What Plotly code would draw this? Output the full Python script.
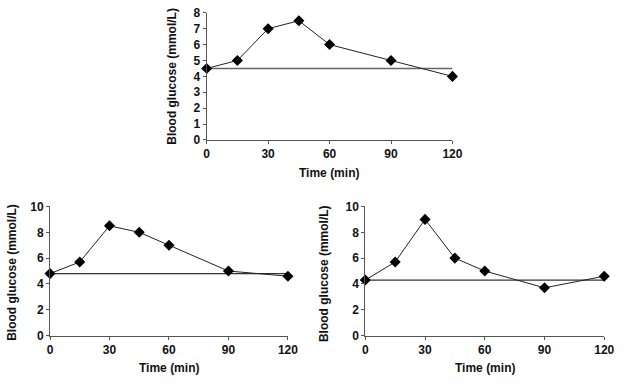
import plotly.graph_objects as go

time_min = [0, 15, 30, 45, 60, 90, 120]
glucose_top = [4.5, 5.0, 7.0, 7.5, 6.0, 5.0, 4.0]
glucose_left = [4.8, 5.7, 8.5, 8.0, 7.0, 5.0, 4.6]
glucose_right = [4.3, 5.7, 9.0, 6.0, 5.0, 3.7, 4.6]
baseline_top = 4.5
baseline_left = 4.8
baseline_right = 4.3
x_ticks = [0, 30, 60, 90, 120]
y_ticks_top = [0, 1, 2, 3, 4, 5, 6, 7, 8]
y_ticks_bottom = [0, 2, 4, 6, 8, 10]

W, H = 625, 385
FONT = dict(family="Liberation Sans, Arial, sans-serif", size=12, color="#111", weight="bold")

panels = [
    # (x0, x1, ytop, ybottom) in pixels, data, baseline, yrange, yticks, title positions
    ((208, 459, 6, 138), glucose_top, baseline_top, [0, 8], y_ticks_top, (333, 172), (173, 72), "#666", 1.6),
    ((48, 291, 207, 341), glucose_left, baseline_left, [0, 10], y_ticks_bottom, (170, 375), (9, 275), "#333", 1.2),
    ((370, 614, 207, 341), glucose_right, baseline_right, [0, 10], y_ticks_bottom, (492, 375), (328, 277), "#333", 1.2),
]

fig = go.Figure()
annotations = []
for i, (box, vals, base, yr, yt, xt_pos, yt_pos, bcol, bw) in enumerate(panels, start=1):
    x0, x1, yt_px, yb_px = box
    xa = "x" if i == 1 else f"x{i}"
    ya = "y" if i == 1 else f"y{i}"
    fig.add_trace(go.Scatter(
        x=[time_min[0], time_min[-1]], y=[base, base], mode="lines",
        line=dict(color=bcol, width=bw), xaxis=xa, yaxis=ya,
        showlegend=False, hoverinfo="skip", cliponaxis=False))
    fig.add_trace(go.Scatter(
        x=time_min, y=vals, mode="lines+markers",
        line=dict(color="#222", width=1),
        marker=dict(symbol="diamond", size=8.5, color="#000"),
        xaxis=xa, yaxis=ya, showlegend=False, cliponaxis=False))
    axis_common = dict(showgrid=False, zeroline=False, showline=True, linecolor="#555",
                       linewidth=1, ticks="outside", ticklen=3, tickcolor="#555",
                       tickfont=FONT)
    fig.layout[f"xaxis{'' if i == 1 else i}"] = dict(
        domain=[x0 / W, x1 / W], range=[0, 120], tickvals=x_ticks,
        anchor=ya, **axis_common)
    fig.layout[f"yaxis{'' if i == 1 else i}"] = dict(
        domain=[1 - yb_px / H, 1 - yt_px / H], range=yr, tickvals=yt,
        anchor=xa, **axis_common)
    annotations.append(dict(text="Time (min)", xref="paper", yref="paper",
                            x=xt_pos[0] / W, y=1 - xt_pos[1] / H, showarrow=False,
                            xanchor="center", yanchor="middle", font=FONT))
    annotations.append(dict(text="Blood glucose (mmol/L)", xref="paper", yref="paper",
                            x=yt_pos[0] / W, y=1 - yt_pos[1] / H, showarrow=False,
                            textangle=-90, xanchor="center", yanchor="middle", font=FONT))

fig.update_layout(width=W, height=H, margin=dict(l=0, r=0, t=0, b=0),
                  paper_bgcolor="white", plot_bgcolor="white",
                  annotations=annotations)
fig.write_html("out.html", config={"displayModeBar": False},
               post_script="document.body.style.margin='0';document.body.style.overflow='hidden';")
